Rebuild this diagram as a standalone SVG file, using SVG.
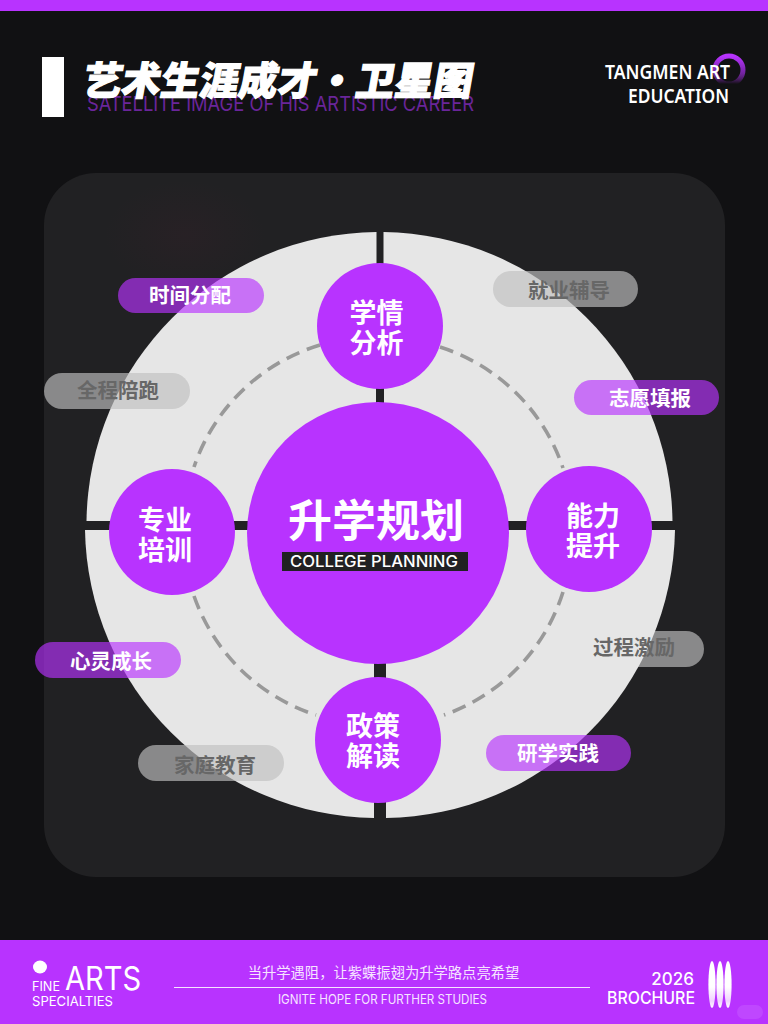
<svg xmlns="http://www.w3.org/2000/svg" width="768" height="1024" viewBox="0 0 768 1024">
<defs>
<style>
.cjk{font-family:"Noto Sans CJK SC","Noto Sans",sans-serif;font-weight:700;text-anchor:middle}
.lat{font-family:Inter,"Noto Sans",sans-serif}
.con{font-family:"Noto Sans","Liberation Sans",sans-serif}
.node{fill:#b833ff}
.nt{fill:#fff;font-size:27px}
.pp{fill:#b833ff;fill-opacity:.65}
.pg{fill:#c0c0c0;fill-opacity:.66}
.tp{fill:#fff;font-size:20.5px}
.tg{fill:#676767;font-size:20.5px}
.arc{fill:none;stroke:#999;stroke-width:3.6;stroke-dasharray:14 8}
.bar{fill:#212123}
.q{fill:#e6e6e6}
</style>
<linearGradient id="ring" x1="0" y1="0" x2="0" y2="1"><stop offset="0" stop-color="#b833ff"/><stop offset=".55" stop-color="#7a25ab"/><stop offset="1" stop-color="#b833ff" stop-opacity="0"/></linearGradient>
<radialGradient id="tint" cx="0.5" cy="0.5" r="0.5"><stop offset="0" stop-color="#4a1f30" stop-opacity=".16"/><stop offset="1" stop-color="#4a1f30" stop-opacity="0"/></radialGradient>
<linearGradient id="petal" x1="0" y1="0" x2="0" y2="1"><stop offset="0" stop-color="#fff"/><stop offset=".55" stop-color="#fff"/><stop offset=".85" stop-color="#f0d0ff"/><stop offset="1" stop-color="#fff"/></linearGradient>
</defs>
<rect width="768" height="1024" fill="#111113"/>
<rect width="768" height="11" fill="#b833ff"/>
<g id="header">
<rect x="42" y="57" width="22" height="60" fill="#fff"/>
<text class="lat" x="87" y="111" font-size="20" fill="#6a259a" textLength="387" lengthAdjust="spacingAndGlyphs">SATELLITE IMAGE OF HIS ARTISTIC CAREER</text>
<text transform="translate(276 95) skewX(-10)" style="font-family:'Noto Sans CJK SC',sans-serif;font-weight:900;text-anchor:middle" font-size="39" fill="#fff" stroke="#fff" stroke-width="1.2">艺术生涯成才・卫星图</text>
<circle cx="729" cy="70" r="14" fill="none" stroke="url(#ring)" stroke-width="5"/>
<text class="con" x="730" y="79" font-size="20" font-weight="600" fill="#fff" text-anchor="end" textLength="125" lengthAdjust="spacingAndGlyphs">TANGMEN ART</text>
<text class="con" x="729" y="103" font-size="20" font-weight="600" fill="#fff" text-anchor="end" textLength="101" lengthAdjust="spacingAndGlyphs">EDUCATION</text>
</g>
<rect id="panel" x="44" y="173" width="681" height="704" rx="52" fill="#212123"/>
<ellipse cx="185" cy="235" rx="80" ry="55" fill="url(#tint)"/>
<g id="pill-behind"><rect class="pg" x="558" y="631" width="146" height="36" rx="18"/></g>
<g id="disc">
<path class="q" d="M376.500 232A293 293 0 0 0 86.500 521H376.500Z"/>
<path class="q" d="M383.500 232A293 293 0 0 1 672.500 521H383.500Z"/>
<path class="q" d="M85 530A293 293 0 0 0 374 818V530Z"/>
<path class="q" d="M386 818A293 293 0 0 0 675 530H386Z"/>
<rect class="bar" x="233" y="521" width="300" height="9"/>
<rect class="bar" x="376" y="380" width="8" height="300"/>
</g>
<g id="connectors">
<path class="arc" d="M320 345A191 191 0 0 0 194 467"/>
<path class="arc" d="M440 347A191 191 0 0 1 563 468"/>
<path class="arc" d="M563 592A191 191 0 0 1 444 715"/>
<path class="arc" d="M194 596A191 191 0 0 0 316 715"/>
</g>
<g id="center">
<circle class="node" cx="378" cy="533" r="131"/>
<text class="cjk" x="376" y="537" font-size="44" fill="#fff">升学规划</text>
<rect x="282" y="552" width="186" height="19" fill="#212123"/>
<text class="lat" x="374" y="567" font-size="16" font-weight="500" fill="#fff" text-anchor="middle" textLength="168" lengthAdjust="spacingAndGlyphs">COLLEGE PLANNING</text>
</g>
<g id="n-top"><circle class="node" cx="380" cy="326" r="63"/><text class="cjk nt" x="376.500" y="323">学情</text><text class="cjk nt" x="376.500" y="353">分析</text></g>
<g id="n-left"><circle class="node" cx="172" cy="532" r="63"/><text class="cjk nt" x="165" y="530">专业</text><text class="cjk nt" x="165" y="560">培训</text></g>
<g id="n-right"><circle class="node" cx="589" cy="529" r="63"/><text class="cjk nt" x="593" y="526">能力</text><text class="cjk nt" x="593" y="556">提升</text></g>
<g id="n-bottom"><circle class="node" cx="378" cy="740" r="63"/><text class="cjk nt" x="373" y="736">政策</text><text class="cjk nt" x="373" y="766">解读</text></g>
<g id="p1"><rect class="pp" x="118" y="278" width="146" height="35" rx="17.500"/><text class="cjk tp" x="190" y="303">时间分配</text></g>
<g id="p2"><rect class="pg" x="44" y="373" width="146" height="36" rx="18"/><text class="cjk tg" x="118" y="398">全程陪跑</text></g>
<g id="p3"><rect class="pg" x="493" y="271" width="145" height="36" rx="18"/><text class="cjk tg" x="569" y="298">就业辅导</text></g>
<g id="p4"><rect class="pp" x="574" y="380" width="145" height="35" rx="17.500"/><text class="cjk tp" x="650" y="406">志愿填报</text></g>
<g id="p5"><rect class="pp" x="35" y="642" width="146" height="36" rx="18"/><text class="cjk tp" x="111" y="669">心灵成长</text></g>
<g id="p6"><rect class="pg" x="138" y="745" width="146" height="36" rx="18"/><text class="cjk tg" x="215" y="773">家庭教育</text></g>
<g id="p7"><text class="cjk tg" x="634" y="655">过程激励</text></g>
<g id="p8"><rect class="pp" x="486" y="735" width="145" height="36" rx="18"/><text class="cjk tp" x="558" y="761">研学实践</text></g>
<g id="footer">
<rect y="940" width="768" height="84" fill="#b833ff"/>
<ellipse cx="40" cy="967" rx="7" ry="6.500" fill="#fff"/>
<text class="lat" x="32" y="991" font-size="13" fill="#fff" textLength="28" lengthAdjust="spacingAndGlyphs">FINE</text>
<text class="lat" x="65" y="990" font-size="32" fill="#fff" textLength="76" lengthAdjust="spacingAndGlyphs">ARTS</text>
<text class="lat" x="32" y="1006" font-size="13.500" fill="#fff" textLength="81" lengthAdjust="spacingAndGlyphs">SPECIALTIES</text>
<text x="383.500" y="978" font-size="14.300" fill="#f6e4ff" style="font-family:'Noto Sans CJK SC',sans-serif;text-anchor:middle">当升学遇阻，让紫蝶振翅为升学路点亮希望</text>
<rect x="174" y="987" width="416" height="1" fill="#f6e4ff"/>
<text class="lat" x="278" y="1004" font-size="13" fill="#f6e4ff" textLength="209" lengthAdjust="spacingAndGlyphs">IGNITE HOPE FOR FURTHER STUDIES</text>
<text class="lat" x="694" y="985" font-size="17" font-weight="500" fill="#fff" text-anchor="end">2026</text>
<text class="lat" x="695" y="1004" font-size="17" font-weight="500" fill="#fff" text-anchor="end" textLength="88" lengthAdjust="spacingAndGlyphs">BROCHURE</text>
<ellipse cx="712" cy="984.500" rx="3.600" ry="23.500" fill="url(#petal)"/>
<ellipse cx="720" cy="984.500" rx="3.600" ry="23.500" fill="url(#petal)"/>
<ellipse cx="728" cy="984.500" rx="3.600" ry="23.500" fill="url(#petal)"/>
<rect x="737" y="1005" width="26" height="14" rx="7" fill="#fff" fill-opacity=".1"/>
</g>
</svg>
